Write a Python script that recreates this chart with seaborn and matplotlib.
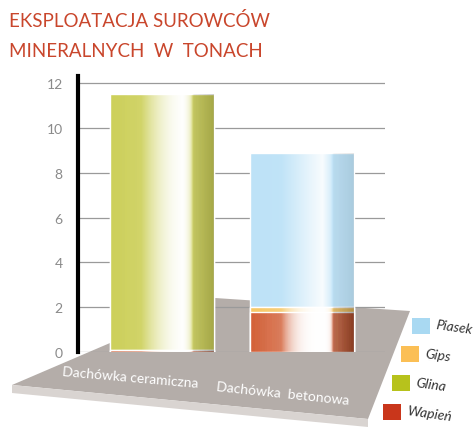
import numpy as np
import pandas as pd
import seaborn as sns
import matplotlib.pyplot as plt
from matplotlib.patches import Polygon, Rectangle

######################################
### Data

categories = ['Dachówka ceramiczna', 'Dachówka  betonowa']
materials = ['Wapień', 'Gips', 'Glina', 'Piasek']   # bottom -> top
wapien = [0.1, 1.8]
gips = [0.0, 0.2]
glina = [11.4, 0.0]
piasek = [0.0, 6.9]

colors = {'Wapień': '#d4623a', 'Gips': '#f7c865', 'Glina': '#cdd05a', 'Piasek': '#bde2f7'}
legend_colors = {'Piasek': '#a9d9f2', 'Gips': '#fbbf55', 'Glina': '#b7c21c', 'Wapień': '#c9361b'}

title_lines = ['EKSPLOATACJA SUROWCÓW', 'MINERALNYCH  W  TONACH']
yticks = [0, 2, 4, 6, 8, 10, 12]

df = pd.DataFrame({'kategoria': categories, 'Wapień': wapien, 'Gips': gips,
                   'Glina': glina, 'Piasek': piasek})

#####################################
### Plot

sns.set_style('white')
plt.rcParams['font.family'] = ['Lato', 'DejaVu Sans']

fig = plt.figure(figsize=(4.73, 4.35), dpi=100)
W, H = 473, 435

def fx(p):
    return [(x / W, 1 - y / H) for x, y in p]

# floor
floor_top = [(12, 386), (215, 299), (410, 312), (368, 420)]
floor_edge = [(12, 386), (368, 420), (368, 428), (12, 394)]
fig.add_artist(Polygon(fx(floor_top), closed=True, facecolor='#b4ada9', edgecolor='none', zorder=0))
fig.add_artist(Polygon(fx(floor_edge), closed=True, facecolor='#d9d4d1', edgecolor='none', zorder=0))

ax = fig.add_axes([78 / W, 82 / H, 307 / W, 12.3 * 22.4 / H])
ax.set_facecolor('none')

# stacked bars: draw cumulative totals from the top layer down
cum = df[materials].cumsum(axis=1)
for m in reversed(materials):
    sns.barplot(x=df['kategoria'], y=cum[m], color=colors[m], saturation=1,
                width=0.74, ax=ax, zorder=3)

# cylinder-like shading on each bar
grad_x = np.linspace(0, 1, 300)
white_a = np.interp(grad_x, [0, 0.3, 0.6, 0.7, 0.77, 0.8, 1], [0, 0.05, 0.7, 0.9, 0.45, 0.05, 0])
dark_a = np.interp(grad_x, [0, 0.79, 0.81, 1], [0, 0, 0.04, 0.1])
for p in list(ax.patches):
    if p.get_height() <= 0:
        continue
    x0, y0 = p.get_x(), p.get_y()
    w, h = p.get_width(), p.get_height()
    for rgb, alpha in [((1, 1, 1), white_a), ((0, 0, 0), dark_a)]:
        img = np.zeros((1, len(grad_x), 4))
        img[..., :3] = rgb
        img[0, :, 3] = alpha
        im = ax.imshow(img, extent=[x0, x0 + w, y0, y0 + h], aspect='auto', zorder=4,
                       interpolation='bilinear')
        im.set_clip_path(p)

ax.set_xlim(-0.6, 1.593)
ax.set_ylim(0, 12.3)
ax.set_yticks(yticks)
ax.set_yticklabels([str(t) for t in yticks], color='#8a8a8a', fontsize=10)
ax.set_xticks([])
ax.set_xlabel('')
ax.set_ylabel('')
ax.grid(axis='y', color='#9a9a9a', lw=0.9)
ax.set_axisbelow(True)
for s in ['top', 'right', 'bottom']:
    ax.spines[s].set_visible(False)
ax.spines['left'].set_color('black')
ax.spines['left'].set_linewidth(3)
ax.tick_params(axis='y', length=5, width=1, color='black', pad=6)

# category labels on the floor
label_pos = [(130, 378, -5), (283, 394, -6)]
for cat, (lx, ly, rot) in zip(categories, label_pos):
    fig.text(lx / W, 1 - ly / H, cat, color='white', fontsize=10, ha='center', va='center',
             rotation=rot)

# title
for i, line in enumerate(title_lines):
    fig.text(9 / W, 1 - (27 + 30 * i) / H, line, color='#c9462c', fontsize=13.5,
             ha='left', va='baseline')

# legend
legend_order = ['Piasek', 'Gips', 'Glina', 'Wapień']
leg_pos = [(412, 335), (401, 363), (392, 392), (383, 421)]
for m, (lx, ly) in zip(legend_order, leg_pos):
    fig.add_artist(Rectangle((lx / W, 1 - ly / H), 18 / W, 16 / H, facecolor=legend_colors[m],
                             edgecolor='none', transform=fig.transFigure))
    fig.text((lx + 23) / W, 1 - (ly - 7) / H, m, fontsize=10, style='italic', color='#333333',
             ha='left', va='center', rotation=-8)

fig.savefig('out.png', dpi=100)
